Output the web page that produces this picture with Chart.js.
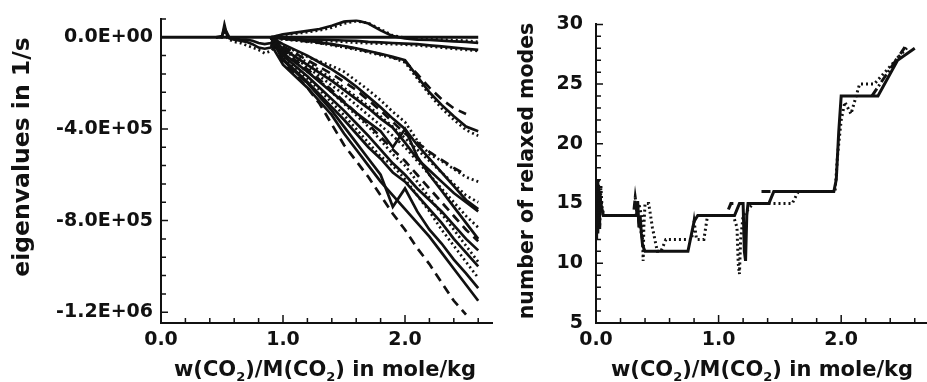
<!DOCTYPE html>
<html>
<head>
<meta charset="utf-8">
<script src="https://cdn.jsdelivr.net/npm/chart.js"></script>
<style>
  body { margin: 0; background: #fff; width: 927px; height: 382px; overflow: hidden; position: relative; }
  #left { position: absolute; left: 0; top: 0; }
  #right { position: absolute; left: 500px; top: 0; }
</style>
</head>
<body>
<canvas id="left" width="500" height="382"></canvas>
<canvas id="right" width="427" height="382"></canvas>
<script>
'use strict';

// ---- left panel : eigenvalues (unit 1E+05 1/s) ----
const evX = [0.9, 1.0, 1.1, 1.2, 1.3, 1.4, 1.5, 1.6, 1.7, 1.8, 1.9, 2.0, 2.1, 2.2, 2.3, 2.4, 2.5, 2.6];
const zeroX = [0, 2.6];
const zeroY = [0, 0];
const preX = [0.45, 0.5, 0.52, 0.54, 0.56, 0.6, 0.65, 0.7, 0.75, 0.8, 0.85, 0.9, 0.95];
const preA = [0, 0, 0.55, 0.1, -0.05, -0.1, -0.15, -0.2, -0.3, -0.45, -0.5, -0.45, -0.2];
const preB = [0, 0, 0.3, 0, -0.1, -0.2, -0.25, -0.35, -0.45, -0.55, -0.7, -0.6, -0.3];
const preC = [0, 0.05, 0.4, 0.2, 0, -0.05, -0.1, -0.1, -0.15, -0.25, -0.3, -0.25, -0.05];

// near zero and slow modes
const evB1 = [0, 0.13, 0.2, 0.28, 0.36, 0.5, 0.68, 0.74, 0.6, 0.3, 0.05, -0.05, -0.1, -0.12, -0.15, -0.18, -0.2, -0.25];
const evB2 = [0, 0.1, 0.16, 0.22, 0.3, 0.42, 0.6, 0.7, 0.62, 0.35, 0.08, -0.02, -0.05, -0.08, -0.1, -0.12, -0.15, -0.2];
const evN1 = [0, -0.05, -0.08, -0.1, -0.1, -0.12, -0.14, -0.16, -0.2, -0.22, -0.25, -0.28, -0.3, -0.35, -0.4, -0.45, -0.5, -0.55];
const evN2 = [0, -0.1, -0.12, -0.14, -0.15, -0.17, -0.2, -0.24, -0.26, -0.28, -0.3, -0.32, -0.36, -0.4, -0.45, -0.5, -0.55, -0.6];
const evC1 = [0, -0.05, -0.1, -0.15, -0.22, -0.3, -0.38, -0.48, -0.6, -0.72, -0.85, -1.0, -1.7, -2.4, -2.95, -3.45, -3.9, -4.1];
const evC2 = [0, -0.08, -0.14, -0.2, -0.26, -0.35, -0.44, -0.54, -0.66, -0.78, -0.9, -1.1, -1.8, -2.5, -3.1, -3.6, -4.05, -4.3];
const evC3 = [0, -0.06, -0.12, -0.18, -0.25, -0.32, -0.4, -0.5, -0.62, -0.74, -0.88, -1.05, -1.6, -2.2, -2.7, -3.1, -3.35, null];

// fast modes
const evT1 = [0, -0.35, -0.6, -0.85, -1.05, -1.25, -1.5, -1.9, -2.3, -2.75, -3.25, -3.7, -4.5, -5.1, -5.4, -5.75, -6.1, -6.3];
const evD1 = [0, -0.4, -0.7, -1.0, -1.3, -1.6, -1.95, -2.3, -2.75, -3.2, -3.7, -4.2, -4.6, -5.0, -5.35, -5.7, -6.0, null];
const evS7 = [0, -0.3, -0.55, -0.8, -1.1, -1.4, -1.75, -2.15, -2.6, -3.05, -3.55, -4.0, -4.7, -5.3, -5.9, -6.5, -7.1, -7.5];
const evT2 = [0, -0.45, -0.8, -1.1, -1.45, -1.8, -2.2, -2.6, -3.0, -3.45, -3.9, -4.4, -4.9, -5.4, -5.9, -6.4, -6.9, -7.2];
const evS1 = [0, -0.5, -0.85, -1.2, -1.55, -1.9, -2.3, -2.7, -3.1, -3.55, -3.95, -4.6, -5.3, -5.8, -6.3, -6.8, -7.2, -7.6];
const evT5 = [0, -0.55, -0.9, -1.3, -1.7, -2.1, -2.5, -2.95, -3.4, -3.85, -4.3, -4.8, -5.4, -6.0, -6.6, -7.2, -7.8, -8.3];
const evD3 = [0, -0.6, -1.0, -1.4, -1.85, -2.3, -2.8, -3.3, -3.8, -4.35, -4.9, -5.4, -6.0, -6.6, -7.2, -7.8, -8.4, -8.9];
const evT3 = [0, -0.7, -1.1, -1.5, -1.9, -2.4, -2.9, -3.4, -3.9, -4.5, -5.1, -5.6, -6.3, -7.0, -7.7, -8.4, -9.1, -9.8];
const evS2 = [0, -0.7, -1.1, -1.5, -1.95, -2.4, -2.85, -3.3, -3.7, -4.1, -4.8, -4.0, -5.2, -6.0, -6.7, -7.4, -8.1, -8.8];
const evS5 = [0, -0.8, -1.25, -1.7, -2.2, -2.7, -3.2, -3.75, -4.3, -4.9, -5.5, -6.0, -6.6, -7.1, -7.6, -8.2, -8.8, -9.3];
const evT4 = [0, -0.9, -1.35, -1.8, -2.3, -2.85, -3.4, -4.0, -4.6, -5.2, -5.6, -6.2, -6.9, -7.6, -8.4, -9.1, -9.8, -10.5];
const evS6 = [0, -0.95, -1.45, -1.95, -2.5, -3.05, -3.6, -4.2, -4.8, -5.3, -5.9, -6.3, -6.9, -7.5, -8.1, -8.8, -9.4, -10.0];
const evS3 = [0, -1.0, -1.5, -2.0, -2.6, -3.2, -3.9, -4.6, -5.3, -6.0, -7.4, -6.6, -7.6, -8.4, -9.0, -9.7, -10.3, -10.95];
const evS4 = [-0.3, -1.2, -1.7, -2.2, -2.8, -3.4, -4.2, -4.9, -5.6, -6.3, -6.9, -7.5, -8.1, -8.7, -9.4, -10.1, -10.8, -11.5];
const evD2 = [-0.2, -1.1, -1.6, -2.2, -2.9, -3.8, -4.7, -5.4, -6.1, -6.9, -7.7, -8.4, -9.2, -9.9, -10.7, -11.5, -12.1, null];

const evYTicks = [0, -4, -8, -12];
const evYLabels = ['0.0E+00', '-4.0E+05', '-8.0E+05', '-1.2E+06'];
const evYMinor = [0.8, -0.8, -1.6, -2.4, -3.2, -4.8, -5.6, -6.4, -7.2, -8.8, -9.6, -10.4, -11.2];

// ---- right panel : number of relaxed modes ----
const modesSolidX = [0, 0.005, 0.01, 0.015, 0.02, 0.025, 0.03, 0.04, 0.05, 0.06, 0.33, 0.34, 0.35, 0.36, 0.37, 0.38, 0.40, 0.75, 0.78, 0.80, 0.83, 1.13, 1.17, 1.20, 1.21, 1.22, 1.23, 1.24, 1.41, 1.45, 1.94, 1.96, 1.98, 2.0, 2.30, 2.46, 2.6];
const modesSolidY = [15, 12, 17, 12.5, 16.5, 13, 16, 15, 14.5, 14, 14, 15.2, 13, 14, 12.5, 11.5, 11, 11, 12.5, 13.5, 14, 14, 15, 15, 11, 10.2, 14, 15, 15, 16, 16, 17, 21, 24, 24, 27, 28];
const modesDotX = [0.02, 0.03, 0.04, 0.05, 0.07, 0.32, 0.35, 0.37, 0.38, 0.385, 0.39, 0.40, 0.43, 0.46, 0.50, 0.53, 0.57, 0.78, 0.80, 0.82, 0.88, 0.91, 1.12, 1.15, 1.16, 1.17, 1.18, 1.20, 1.24, 1.28, 1.60, 1.65, 1.95, 1.97, 2.0, 2.03, 2.08, 2.15, 2.27, 2.40, 2.55];
const modesDotY = [17, 13, 16.5, 14.5, 14, 14, 15, 14, 12, 10.2, 13, 15, 15, 13, 11, 11, 12, 12, 13.5, 12, 12, 14, 14, 13, 10, 9.1, 12, 14, 14.5, 15, 15, 16, 16, 19, 22, 23.5, 22.5, 25, 25, 26.5, 28.2];
const modesDashX = [0.31, 0.32, 0.34, 0.36, 0.38, 0.385, 1.08, 1.10, 1.14, 1.145, 1.35, 1.45, 1.455, 2.25, 2.52];
const modesDashY = [14.5, 15.5, 14, 13, 12, null, 14.5, 15, 15, null, 16, 16, null, 24, 28.1];

const modesYTicks = [5, 10, 15, 20, 25, 30];
const modesYMinor = [6, 7, 8, 9, 11, 12, 13, 14, 16, 17, 18, 19, 21, 22, 23, 24, 26, 27, 28, 29];

const xTicks = [0, 1, 2];
const xLabels = ['0.0', '1.0', '2.0'];
const xMinor = [0.2, 0.4, 0.6, 0.8, 1.2, 1.4, 1.6, 1.8, 2.2, 2.4, 2.6];

const xTitleParts = [['w(CO', false], ['2', true], [')/M(CO', false], ['2', true], [') in mole/kg', false]];
const evTitle = 'eigenvalues in 1/s';
const modesTitle = 'number of relaxed modes';

const ink = '#111';
const fontFam = '"DejaVu Sans", sans-serif';
const SOLID = [], DOT = [2, 3], DASH = [9, 6], DASHDOT = [9, 3, 2, 3];

function pts(xs, ys) {
  return xs.map((x, i) => ({ x: x, y: ys[i] }));
}
function line(xs, ys, dash, w) {
  return { data: pts(xs, ys), borderColor: ink, borderWidth: w || 2.7, borderDash: dash,
           pointRadius: 0, tension: 0, fill: false, spanGaps: false };
}

// ticks drawn inside the frame
const inwardTicks = {
  id: 'inwardTicks',
  afterDraw(chart, args, o) {
    const ctx = chart.ctx, xs = chart.scales.x, ys = chart.scales.y;
    ctx.save();
    ctx.strokeStyle = ink;
    ctx.lineWidth = 1.5;
    ctx.beginPath();
    const xt = (v, len) => { const p = xs.getPixelForValue(v); ctx.moveTo(p, ys.bottom); ctx.lineTo(p, ys.bottom - len); };
    const yt = (v, len) => { const p = ys.getPixelForValue(v); ctx.moveTo(xs.left, p); ctx.lineTo(xs.left + len, p); };
    xTicks.forEach(v => xt(v, 8));
    xMinor.forEach(v => xt(v, 5));
    o.yMajor.forEach(v => yt(v, 7));
    o.yMinor.forEach(v => yt(v, 5));
    ctx.stroke();
    ctx.restore();
  }
};

// axis titles, with subscripts in the x title
const axisTitles = {
  id: 'axisTitles',
  afterDraw(chart, args, o) {
    const ctx = chart.ctx;
    ctx.save();
    ctx.fillStyle = ink;
    ctx.font = 'bold ' + o.ySize + 'px ' + fontFam;
    ctx.textBaseline = 'middle';
    ctx.textAlign = 'center';
    ctx.translate(o.yx, o.yy);
    ctx.rotate(-Math.PI / 2);
    ctx.fillText(o.yText, 0, 0);
    ctx.restore();

    ctx.save();
    ctx.fillStyle = ink;
    ctx.textBaseline = 'alphabetic';
    ctx.textAlign = 'left';
    const big = 'bold 21px ' + fontFam, small = 'bold 13px ' + fontFam;
    let total = 0;
    xTitleParts.forEach(p => { ctx.font = p[1] ? small : big; total += ctx.measureText(p[0]).width; });
    let x = o.xx - total / 2;
    xTitleParts.forEach(p => {
      ctx.font = p[1] ? small : big;
      ctx.fillText(p[0], x, o.xy + (p[1] ? 5 : 0));
      x += ctx.measureText(p[0]).width;
    });
    ctx.restore();
  }
};

function axisX(max, h) {
  return {
    type: 'linear', min: 0, max: max,
    afterFit: s => { s.height = h; },
    afterBuildTicks: s => { s.ticks = xTicks.map(v => ({ value: v })); },
    grid: { display: false, drawTicks: false },
    border: { display: true, color: ink, width: 2 },
    ticks: { color: ink, padding: 6, maxRotation: 0, autoSkip: false,
             font: { family: fontFam, size: 19, weight: 'bold' },
             callback: v => xLabels[xTicks.indexOf(v)] }
  };
}

Chart.defaults.animation = false;

new Chart(document.getElementById('left'), {
  type: 'line',
  data: {
    datasets: [
      line(zeroX, zeroY, SOLID, 3.2),
      line(preX, preA, SOLID), line(preX, preB, DOT), line(preX, preC, SOLID),
      line(evX, evB1, SOLID), line(evX, evB2, DOT), line(evX, evN1, SOLID), line(evX, evN2, DOT),
      line(evX, evC1, SOLID), line(evX, evC2, DOT), line(evX, evC3, DASH),
      line(evX, evT1, DOT), line(evX, evD1, DASH), line(evX, evS7, SOLID), line(evX, evT2, DOT),
      line(evX, evS1, SOLID), line(evX, evT5, DOT),
      line(evX, evD3, DASH), line(evX, evT3, DOT), line(evX, evS2, SOLID), line(evX, evS5, SOLID),
      line(evX, evT4, DOT), line(evX, evS6, SOLID), line(evX, evS3, SOLID), line(evX, evS4, SOLID),
      line(evX, evD2, DASH)
    ]
  },
  options: {
    responsive: false, devicePixelRatio: 1,
    layout: { padding: { top: 17, right: 8, left: 0, bottom: 0 } },
    plugins: {
      legend: { display: false }, tooltip: { enabled: false },
      inwardTicks: { yMajor: evYTicks, yMinor: evYMinor },
      axisTitles: { yText: evTitle, ySize: 23.5, yx: 23, yy: 157, xx: 325, xy: 376 }
    },
    scales: {
      x: axisX(2.713, 59),
      y: {
        type: 'linear', min: -12.47, max: 0.78,
        afterFit: s => { s.width = 161; },
        afterBuildTicks: s => { s.ticks = evYTicks.map(v => ({ value: v })); },
        grid: { display: false, drawTicks: false },
        border: { display: true, color: ink, width: 2 },
        ticks: { color: ink, padding: 8, font: { family: fontFam, size: 19, weight: 'bold' },
                 callback: v => evYLabels[evYTicks.indexOf(v)] }
      }
    }
  },
  plugins: [inwardTicks, axisTitles]
});

new Chart(document.getElementById('right'), {
  type: 'line',
  data: {
    datasets: [
      line(modesDotX, modesDotY, DOT, 3),
      line(modesDashX, modesDashY, DASHDOT, 3),
      line(modesSolidX, modesSolidY, SOLID, 3)
    ]
  },
  options: {
    responsive: false, devicePixelRatio: 1,
    layout: { padding: { top: 18, right: 0, left: 0, bottom: 0 } },
    plugins: {
      legend: { display: false }, tooltip: { enabled: false },
      inwardTicks: { yMajor: modesYTicks, yMinor: modesYMinor },
      axisTitles: { yText: modesTitle, ySize: 20.5, yx: 28, yy: 171, xx: 262, xy: 376 }
    },
    scales: {
      x: axisX(2.7, 59),
      y: {
        type: 'linear', min: 5, max: 30,
        afterFit: s => { s.width = 96; },
        afterBuildTicks: s => { s.ticks = modesYTicks.map(v => ({ value: v })); },
        grid: { display: false, drawTicks: false },
        border: { display: true, color: ink, width: 2 },
        ticks: { color: ink, padding: 13, font: { family: fontFam, size: 19, weight: 'bold' },
                 callback: v => String(v) }
      }
    }
  },
  plugins: [inwardTicks, axisTitles]
});
</script>
</body>
</html>
